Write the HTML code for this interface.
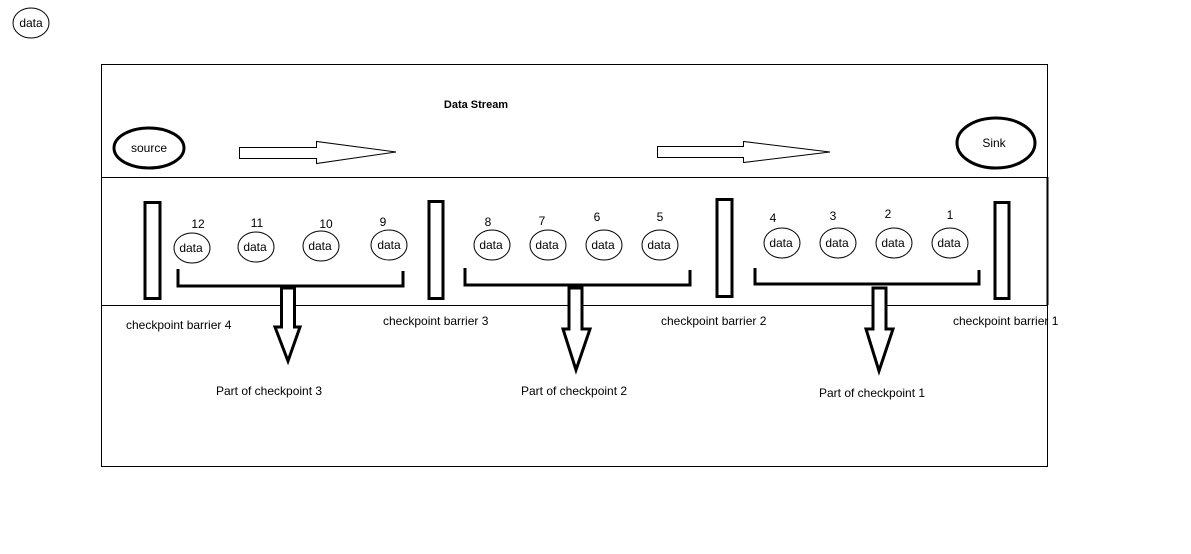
<!DOCTYPE html>
<html><head><meta charset="utf-8"><style>
html,body{margin:0;padding:0;background:#fff;}
svg{display:block;}
text{font-family:"Liberation Sans",sans-serif;font-size:12px;fill:#000;}
</style></head><body>
<svg width="1191" height="554" viewBox="0 0 1191 554" xmlns="http://www.w3.org/2000/svg">
<rect x="0" y="0" width="1191" height="554" fill="#fff"/>
<!-- top-left data -->
<ellipse cx="31" cy="23" rx="18" ry="15" fill="none" stroke="#000" stroke-width="1"/>
<text x="31" y="27" text-anchor="middle">data</text>
<!-- outer rect -->
<rect x="101.5" y="64.5" width="946" height="402" fill="none" stroke="#000" stroke-width="1"/>
<line x1="101" y1="177.5" x2="1048" y2="177.5" stroke="#000"/>
<line x1="101" y1="305.5" x2="1048" y2="305.5" stroke="#000"/>
<line x1="1047.5" y1="177" x2="1047.5" y2="305" stroke="#000" stroke-width="2"/>
<text x="476" y="108" text-anchor="middle" font-weight="bold" style="font-size:11px">Data Stream</text>
<!-- source / sink -->
<ellipse cx="149" cy="148" rx="35" ry="20" fill="none" stroke="#000" stroke-width="3"/>
<text x="149" y="152" text-anchor="middle">source</text>
<ellipse cx="996" cy="143" rx="39" ry="25" fill="none" stroke="#000" stroke-width="3"/>
<text x="994" y="147" text-anchor="middle">Sink</text>
<!-- horizontal arrows -->
<polygon points="239.5,147.5 316.5,147.5 316.5,141.5 396,152 316.5,163.5 316.5,158.5 239.5,158.5" fill="#fff" stroke="#000"/>
<polygon points="657.5,146.5 743.5,146.5 743.5,141.5 830,152 743.5,162.5 743.5,157.5 657.5,157.5" fill="#fff" stroke="#000"/>
<!-- barriers -->
<g fill="none" stroke="#000" stroke-width="3">
<rect x="145" y="202.5" width="15" height="96"/>
<rect x="429" y="201.5" width="14" height="97"/>
<rect x="717" y="199.5" width="15" height="97"/>
<rect x="995" y="202.5" width="14" height="96"/>
</g>
<!-- data ellipses -->
<g fill="none" stroke="#000" stroke-width="1">
<ellipse cx="192" cy="248" rx="18" ry="15"/>
<ellipse cx="256" cy="247" rx="18" ry="15"/>
<ellipse cx="321" cy="246" rx="18" ry="15"/>
<ellipse cx="389" cy="245" rx="18" ry="15"/>
<ellipse cx="492" cy="245" rx="18" ry="15"/>
<ellipse cx="548" cy="245" rx="18" ry="15"/>
<ellipse cx="604" cy="245" rx="18" ry="15"/>
<ellipse cx="660" cy="245" rx="18" ry="15"/>
<ellipse cx="782" cy="243" rx="18" ry="15"/>
<ellipse cx="838" cy="243" rx="18" ry="15"/>
<ellipse cx="894" cy="243" rx="18" ry="15"/>
<ellipse cx="950" cy="243" rx="18" ry="15"/>
</g>
<g text-anchor="middle">
<text x="191" y="252">data</text><text x="255" y="251">data</text><text x="320" y="250">data</text><text x="389" y="249">data</text>
<text x="491" y="249">data</text><text x="547" y="249">data</text><text x="603" y="249">data</text><text x="659" y="249">data</text>
<text x="781" y="247">data</text><text x="837" y="247">data</text><text x="893" y="247">data</text><text x="949" y="247">data</text>
<text x="198" y="228">12</text><text x="257" y="227">11</text><text x="326" y="228">10</text><text x="383" y="226">9</text>
<text x="488" y="226">8</text><text x="542" y="225">7</text><text x="597" y="221">6</text><text x="660" y="221">5</text>
<text x="773" y="222">4</text><text x="833" y="220">3</text><text x="888" y="218">2</text><text x="950" y="219">1</text>
</g>
<!-- brackets -->
<g fill="none" stroke="#000" stroke-width="3">
<polyline points="178,269 178,286 403,286 403,271"/>
<polyline points="465,268 465,285 690,285 690,270"/>
<polyline points="755,268 755,284 979,284 979,270"/>
</g>
<!-- down arrows -->
<g fill="#fff" stroke="#000" stroke-width="3">
<polygon points="281.5,288 294.5,288 294.5,327 300,327 288,361 275,327 281.5,327"/>
<polygon points="569,288 582,288 582,329 590,329 576,370 563,329 569,329"/>
<polygon points="873,288 886,288 886,329 893,329 879,371 866,329 873,329"/>
</g>
<!-- labels -->
<text x="126" y="329">checkpoint barrier 4</text>
<text x="383" y="325">checkpoint barrier 3</text>
<text x="661" y="325">checkpoint barrier 2</text>
<text x="953" y="325">checkpoint barrier 1</text>
<text x="216" y="395">Part of checkpoint 3</text>
<text x="521" y="395">Part of checkpoint 2</text>
<text x="819" y="397">Part of checkpoint 1</text>
</svg>
</body></html>
